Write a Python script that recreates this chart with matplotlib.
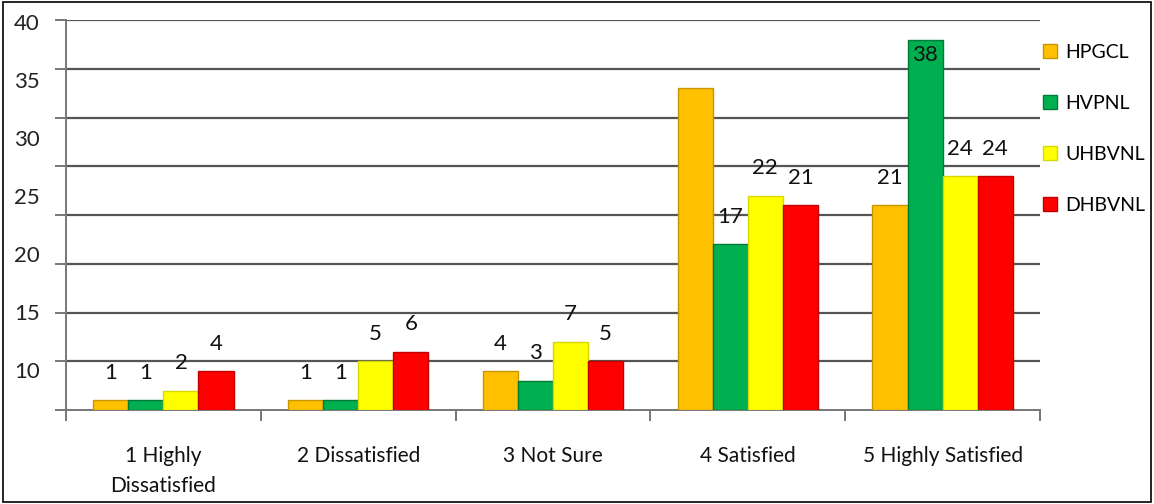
import numpy as np
import matplotlib
matplotlib.use('Agg')
import matplotlib.pyplot as plt
from matplotlib.patches import Rectangle
from matplotlib.transforms import offset_copy

plt.rcParams['font.family'] = ['Lato', 'DejaVu Sans']

categories = ['1 Highly\nDissatisfied', '2 Dissatisfied', '3 Not Sure', '4 Satisfied', '5 Highly Satisfied']
series_names = ['HPGCL', 'HVPNL', 'UHBVNL', 'DHBVNL']
hpgcl = [1, 1, 4, 33, 21]
hvpnl = [1, 1, 3, 17, 38]
uhbvnl = [2, 5, 7, 22, 24]
dhbvnl = [4, 6, 5, 21, 24]
# the 33 bar has no data label in the original
hpgcl_labels = ['1', '1', '4', '', '21']
hvpnl_labels = ['1', '1', '3', '17', '38']
uhbvnl_labels = ['2', '5', '7', '22', '24']
dhbvnl_labels = ['4', '6', '5', '21', '24']
# y tick labels as printed (they sit off the gridlines in the source)
ytick_labels = ['10', '15', '20', '25', '30', '35', '40']

colors = ['#FFC000', '#00B050', '#FFFF00', '#FF0000']
edges = ['#C89600', '#007A38', '#D8D800', '#C00000']

fig = plt.figure(figsize=(11.54, 5.04), dpi=100)
ax = fig.add_axes([0.0572, 0.1865, 0.844, 0.7735])

x = np.arange(len(categories))
width = 0.18
all_vals = [hpgcl, hvpnl, uhbvnl, dhbvnl]
all_labels = [hpgcl_labels, hvpnl_labels, uhbvnl_labels, dhbvnl_labels]
for i, (vals, labs) in enumerate(zip(all_vals, all_labels)):
    pos = x + (i - 1.5) * width
    ax.bar(pos, vals, width, color=colors[i], edgecolor=edges[i], linewidth=1,
           label=series_names[i], zorder=3)
    for p, v, t in zip(pos, vals, labs):
        if not t:
            continue
        if v >= 36:
            ax.text(p, v - 1.6, t, ha='center', va='center', fontsize=16, color='#111111', zorder=4)
        else:
            ax.text(p, v + 2.8, t, ha='center', va='center', fontsize=16, color='#111111', zorder=4)

ax.set_xlim(-0.5, len(categories) - 0.5)
ax.set_ylim(0, 40)

# gridlines every 5
for gy in range(5, 41, 5):
    ax.axhline(gy, color='#555555', lw=1.6, zorder=1)
ax.set_yticks(np.arange(0, 41, 5))
ax.set_yticklabels([])
ax.tick_params(axis='y', length=8, width=1.4, color='#777777', direction='out')
ylab_trans = offset_copy(ax.transData, fig=fig, x=-26, y=0, units='dots')
for lab, ypos in zip(ytick_labels, np.linspace(3.9, 39.6, 7)):
    ax.text(-0.5, ypos, lab, transform=ylab_trans, ha='right', va='center',
            fontsize=16, color='#222222', clip_on=False)

ax.set_xticks(np.arange(-0.5, len(categories), 1))
ax.set_xticklabels([])
ax.tick_params(axis='x', length=8, width=1.4, color='#777777', direction='out')
for xi, c in zip(x, categories):
    ax.text(xi, -3.7, c, ha='center', va='top', fontsize=15, color='#111111',
            linespacing=1.6, clip_on=False)

for s in ['top', 'right']:
    ax.spines[s].set_visible(False)
ax.spines['left'].set_color('#777777')
ax.spines['left'].set_linewidth(1.4)
ax.spines['bottom'].set_color('#777777')
ax.spines['bottom'].set_linewidth(1.4)

leg = ax.legend(loc='upper left', bbox_to_anchor=(0.995, 0.96), frameon=False,
                fontsize=14, handlelength=0.7, handleheight=0.7, handletextpad=0.45,
                labelspacing=1.75, borderaxespad=0)

fig.patches.append(Rectangle((0.003, 0.004), 0.994, 0.992, transform=fig.transFigure,
                             fill=False, edgecolor='black', lw=1.2))

fig.savefig('out.png', dpi=100)
